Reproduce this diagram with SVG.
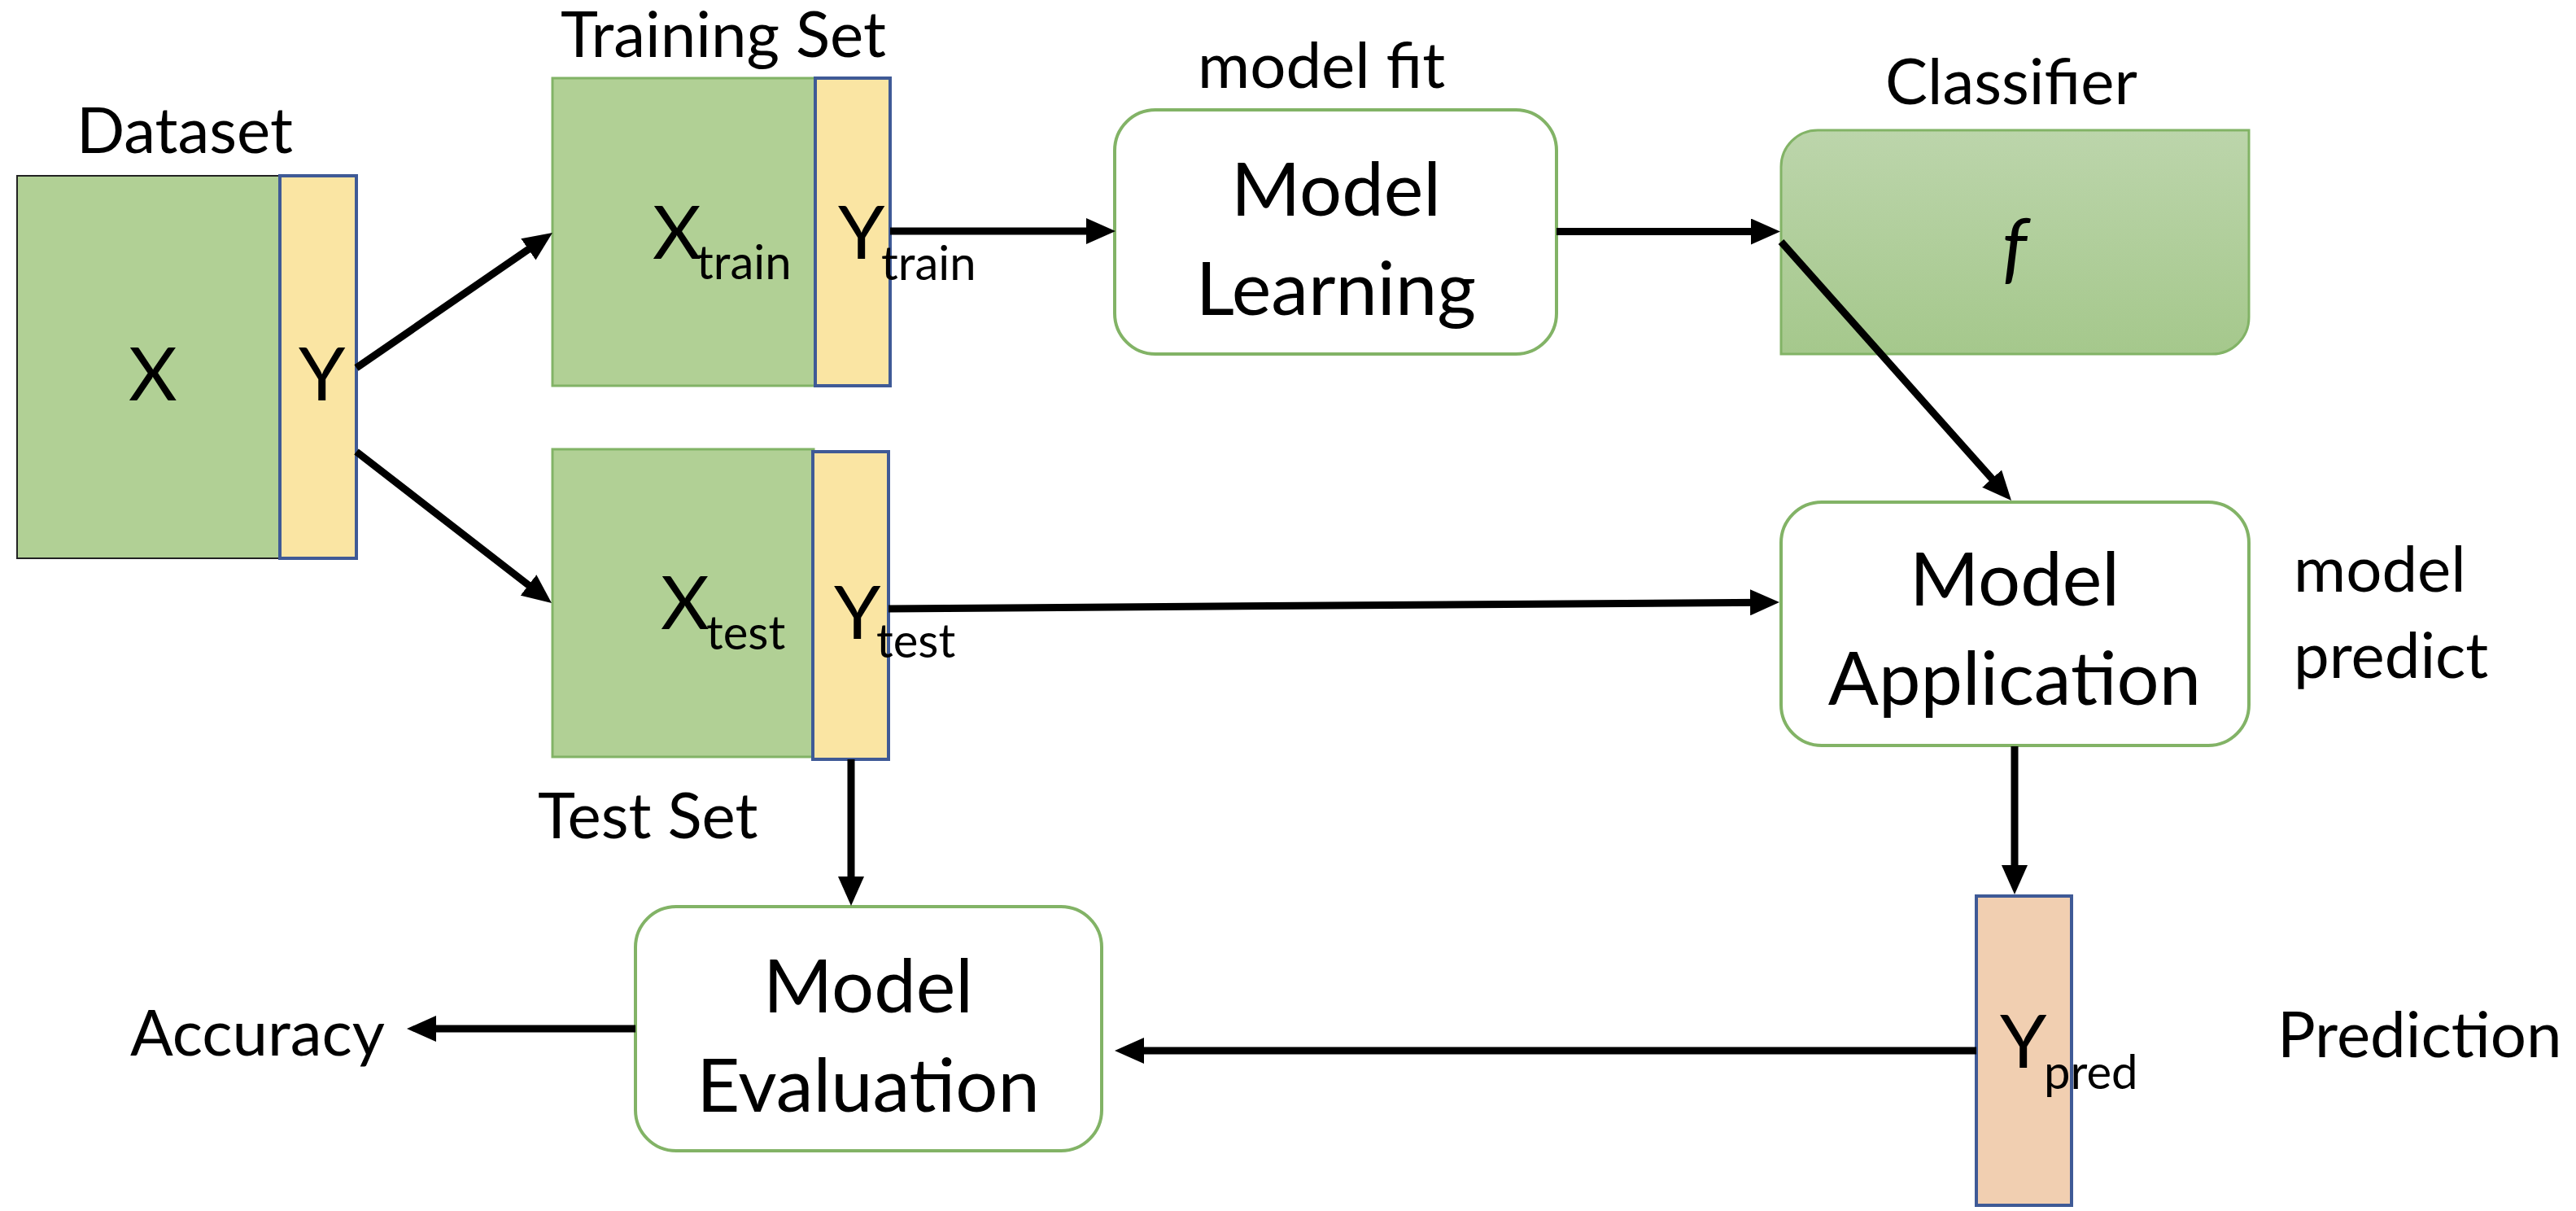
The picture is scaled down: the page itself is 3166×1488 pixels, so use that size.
<svg xmlns="http://www.w3.org/2000/svg" width="3166" height="1488" viewBox="0 0 3166 1488">
<defs>
<linearGradient id="clsGrad" x1="0" y1="0" x2="0" y2="1">
<stop offset="0" stop-color="#bcd5ab"/>
<stop offset="1" stop-color="#a5c88c"/>
</linearGradient>
<marker id="ah" markerUnits="userSpaceOnUse" markerWidth="36" markerHeight="32" viewBox="0 0 36 32" refX="14" refY="16" orient="auto">
<path d="M0,0 L36,16 L0,32 Z" fill="#000"/>
</marker>
<style>
text{font-family:Lato,"Liberation Sans",sans-serif;fill:#000}
.big{font-size:92px}
.lbl{font-size:78px}
.sub{font-size:58px}
.mid{text-anchor:middle}
.green{fill:#b1d095;stroke:#82b366;stroke-width:3}
.yel{fill:#fae5a3;stroke:#3f5a96;stroke-width:4}
.proc{fill:#fff;stroke:#82b366;stroke-width:4}
.conn{stroke:#000;stroke-width:9;fill:none;marker-end:url(#ah)}
</style>
</defs>
<rect width="3166" height="1488" fill="#fff"/>

<g id="dataset">
<text class="lbl" x="94" y="188">Dataset</text>
<rect x="21" y="216" width="323" height="470" fill="#b1d095" stroke="#222" stroke-width="2"/>
<rect class="yel" x="344" y="216" width="94" height="470"/>
<text class="big" x="158" y="492">X</text>
<text class="big" x="367" y="492">Y</text>
</g>

<g id="training-set">
<text class="lbl" x="689" y="70">Training Set</text>
<rect class="green" x="679" y="96" width="324" height="378"/>
<rect class="yel" x="1002" y="96" width="92" height="378"/>
<text class="big" x="802" y="318">X<tspan class="sub" x="856" y="343">train</tspan></text>
<text class="big" x="1030" y="318">Y<tspan class="sub" x="1083" y="344">train</tspan></text>
</g>

<g id="test-set">
<rect class="green" x="679" y="552" width="321" height="378"/>
<rect class="yel" x="999" y="555" width="93" height="378"/>
<text class="big" x="812" y="773">X<tspan class="sub" x="868" y="798">test</tspan></text>
<text class="big" x="1025" y="785">Y<tspan class="sub" x="1077" y="808">test</tspan></text>
<text class="lbl" x="661" y="1030">Test Set</text>
</g>

<g id="model-learning">
<text class="lbl" x="1472" y="108">model fit</text>
<rect class="proc" x="1370" y="135" width="543" height="300" rx="50" ry="50"/>
<text class="big mid" x="1642" y="265">Model</text>
<text class="big mid" x="1642" y="387">Learning</text>
</g>

<g id="classifier">
<text class="lbl" x="2317" y="128">Classifier</text>
<path d="M2234,160 H2764 V390 A45,45 0 0 1 2719,435 H2189 V205 A45,45 0 0 1 2234,160 Z" fill="url(#clsGrad)" stroke="#82b366" stroke-width="3"/>
<text x="2476" y="337" font-size="96" font-style="italic" text-anchor="middle">f</text>
</g>

<g id="model-application">
<rect class="proc" x="2189" y="617" width="575" height="299" rx="50" ry="50"/>
<text class="big mid" x="2476" y="744">Model</text>
<text class="big mid" x="2476" y="866">Application</text>
<text class="lbl" x="2819" y="727">model</text>
<text class="lbl" x="2819" y="833">predict</text>
</g>

<g id="prediction">
<rect x="2429" y="1101" width="117" height="380" fill="#f1cfb1" stroke="#3f5a96" stroke-width="4"/>
<text class="big" x="2458" y="1312">Y<tspan class="sub" x="2512" y="1338">pred</tspan></text>
<text class="lbl" x="2799" y="1299">Prediction</text>
</g>

<g id="model-evaluation">
<rect class="proc" x="781" y="1114" width="573" height="300" rx="50" ry="50"/>
<text class="big mid" x="1067" y="1244">Model</text>
<text class="big mid" x="1067" y="1366">Evaluation</text>
</g>

<g id="accuracy">
<text class="lbl" x="160" y="1297">Accuracy</text>
</g>

<g id="connectors">
<line class="conn" x1="438" y1="452" x2="660.9" y2="298.5"/>
<line class="conn" x1="438" y1="555" x2="660.6" y2="727.5"/>
<line class="conn" x1="1094" y1="284" x2="1349" y2="284"/>
<line class="conn" x1="1913" y1="284.5" x2="2166" y2="284.5"/>
<line class="conn" x1="2189" y1="297" x2="2457.4" y2="598.6"/>
<line class="conn" x1="1092" y1="748" x2="2165" y2="740.2"/>
<line class="conn" x1="2476" y1="917" x2="2476" y2="1077"/>
<line class="conn" x1="2429" y1="1291" x2="1392" y2="1291"/>
<line class="conn" x1="781" y1="1264" x2="522" y2="1264"/>
<line class="conn" x1="1046" y1="933" x2="1046" y2="1091"/>
</g>
</svg>
